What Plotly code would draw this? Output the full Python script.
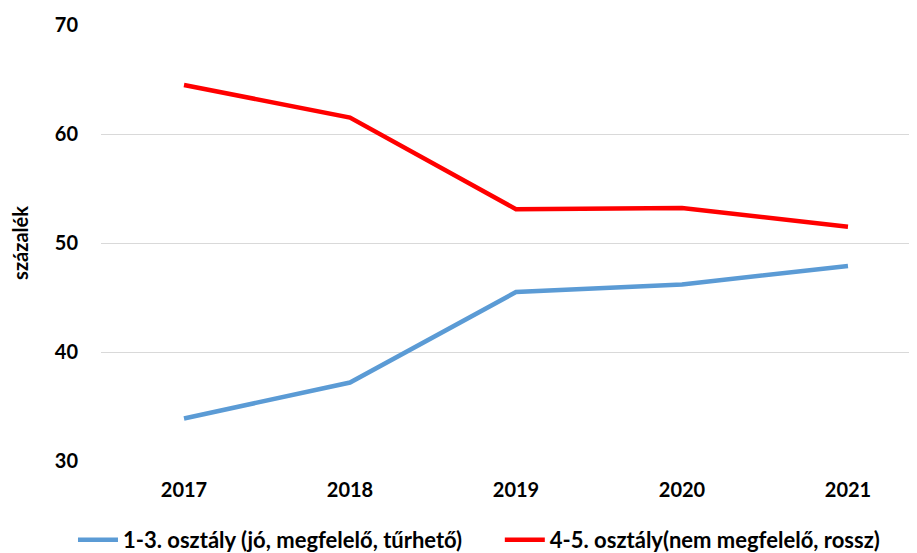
import plotly.graph_objects as go

years = ["2017", "2018", "2019", "2020", "2021"]
good = [33.9, 37.2, 45.5, 46.2, 47.9]
bad = [64.5, 61.5, 53.1, 53.2, 51.5]
name_good = "1-3. osztály (jó, megfelelő, tűrhető)"
name_bad = "4-5. osztály(nem megfelelő, rossz)"

fig = go.Figure()
fig.add_trace(go.Scatter(x=years, y=good, mode="lines", name=name_good, legend="legend",
                         line=dict(color="#5B9BD5", width=4.5)))
fig.add_trace(go.Scatter(x=years, y=bad, mode="lines", name=name_bad, legend="legend2",
                         line=dict(color="#FF0000", width=4.5)))

def f(size):
    return dict(family="Lato", size=size, color="#000000", weight="bold")

leg = dict(orientation="h", xanchor="left", y=-0.181, yanchor="middle",
           font=f(22), itemwidth=40, tracegroupgap=0, bgcolor="rgba(0,0,0,0)")

fig.update_layout(
    width=917, height=553,
    margin=dict(l=93, r=0, t=17, b=99),
    paper_bgcolor="white", plot_bgcolor="white",
    font=f(20),
    showlegend=True,
    legend=dict(leg, x=-0.034),
    legend2=dict(leg, x=0.484),
    xaxis=dict(type="category", range=[-0.5, 4.464], showgrid=False, zeroline=False,
               showline=False, ticks="", ticklabelstandoff=15, automargin=False,
               tickfont=f(20)),
    yaxis=dict(range=[30, 70], dtick=10, showgrid=True, gridcolor="#D9D9D9", gridwidth=1.3,
               zeroline=False, showline=False, ticks="", ticklabelstandoff=22, automargin=False,
               tickfont=f(20),
               title=dict(text="százalék", standoff=34, font=f(20))),
)
fig.write_html("out.html")
